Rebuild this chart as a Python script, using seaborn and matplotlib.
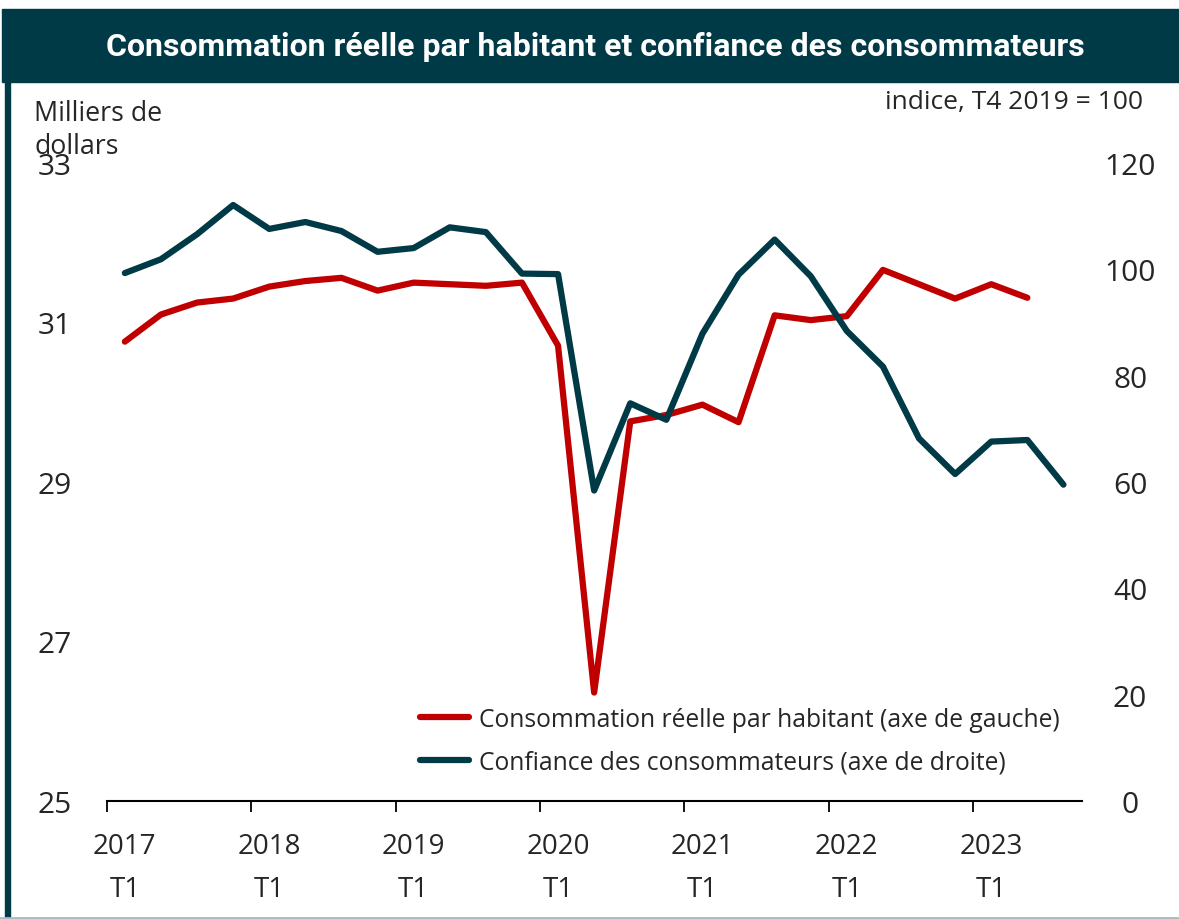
import numpy as np
import pandas as pd
import matplotlib
matplotlib.use("Agg")
import matplotlib.pyplot as plt
import seaborn as sns
from matplotlib.patches import Rectangle
from matplotlib.lines import Line2D

# données (trimestriel, 2017 T1 -> 2023 T3)
years = ["2017", "2018", "2019", "2020", "2021", "2022", "2023"]
trimestres = [f"{a} T{q}" for a in years for q in range(1, 5)][:27]
conso = [30.76, 31.10, 31.25, 31.30, 31.45, 31.52, 31.56, 31.40, 31.50, 31.48,
         31.46, 31.50, 30.71, 26.36, 29.76, 29.84, 29.97, 29.75, 31.09, 31.03,
         31.08, 31.66, 31.48, 31.30, 31.48, 31.31]
confiance = [99.3, 101.9, 106.6, 112.1, 107.6, 108.9, 107.2, 103.3, 104.0, 107.9,
             107.0, 99.2, 99.1, 58.4, 74.8, 71.7, 87.9, 99.0, 105.6, 98.7,
             88.4, 81.7, 68.2, 61.5, 67.6, 67.9, 59.5]
left_ticks = [25, 27, 29, 31, 33]
right_ticks = [0, 20, 40, 60, 80, 100, 120]
labels = ["Consommation réelle par habitant (axe de gauche)",
          "Confiance des consommateurs (axe de droite)"]

rouge = "#C00000"
teal = "#003A46"

sns.set_style("white")
plt.rcParams["font.family"] = ["Open Sans", "DejaVu Sans"]

df = pd.DataFrame({
    "t": np.arange(len(trimestres)),
    "conso": conso + [np.nan] * (len(trimestres) - len(conso)),
    "confiance": confiance,
})

W, H = 1179, 920
fig = plt.figure(figsize=(W / 100, H / 100), dpi=100)
ax = fig.add_axes([106.8 / W, 118 / H, (1081.5 - 106.8) / W, (802 - 164) / H])
ax2 = ax.twinx()

sns.lineplot(data=df, x="t", y="conso", ax=ax, color=rouge, lw=4.5, legend=False)
sns.lineplot(data=df, x="t", y="confiance", ax=ax2, color=teal, lw=4.5, legend=False)
for a in (ax, ax2):
    for ln in a.get_lines():
        ln.set_solid_joinstyle("round")
        ln.set_solid_capstyle("round")

ax.set_xlim(-0.5, len(trimestres) - 0.5)
ax.set_ylim(25, 33)
ax2.set_ylim(0, 120)
ax.set_xlabel("")
ax.set_ylabel("")
ax2.set_ylabel("")

# ticks entre les catégories, étiquettes au centre du T1
ax.set_xticks(np.arange(-0.5, len(trimestres) - 1, 4))
ax.set_xticklabels([])
ax.set_xticks(np.arange(0, len(trimestres), 4), minor=True)
ax.set_xticklabels([f"{y}\nT1" for y in years], minor=True, fontsize=20, linespacing=1.75)
ax.tick_params(axis="x", which="major", bottom=True, length=8, width=1.3, color="black")
ax.tick_params(axis="x", which="minor", bottom=True, length=0, pad=22)

ax.set_yticks(left_ticks)
ax.set_yticklabels([str(v) for v in left_ticks], fontsize=21.5)
ax.tick_params(axis="y", length=0, pad=25)
ax2.set_yticks(right_ticks)
ax2.set_yticklabels([str(v) for v in right_ticks], fontsize=21.5)
ax2.tick_params(axis="y", length=0, pad=35)
for lbl in ax2.get_yticklabels():
    lbl.set_horizontalalignment("center")

for a in (ax, ax2):
    for s in ("top", "left", "right", "bottom"):
        a.spines[s].set_visible(False)
ax.spines["bottom"].set_visible(True)
ax.spines["bottom"].set_color("black")
ax.spines["bottom"].set_linewidth(1.5)

handles = [Line2D([], [], color=rouge, lw=4.5, solid_capstyle="round"),
           Line2D([], [], color=teal, lw=4.5, solid_capstyle="round")]
ax2.legend(handles, labels, loc="upper left", bbox_to_anchor=(420 / W, 1 - 708 / H),
           bbox_transform=fig.transFigure, frameon=False, fontsize=17.7,
           handlelength=2.0, handletextpad=0.42, labelspacing=0.72,
           borderpad=0, borderaxespad=0)

# bandeau de titre et cadre
fig.patches.append(Rectangle((2 / W, 1 - 83 / H), 1, 73 / H, transform=fig.transFigure,
                             color=teal, zorder=0))
fig.patches.append(Rectangle((5 / W, 2 / H), 5 / W, 1 - 85 / H, transform=fig.transFigure,
                             color=teal, zorder=0))
fig.lines.append(Line2D([0, 1], [1.5 / H, 1.5 / H], transform=fig.transFigure,
                        color="#AEB9BF", lw=2))
fig.text(595 / W, 1 - 47 / H, "Consommation réelle par habitant et confiance des consommateurs",
         ha="center", va="center", color="white", fontsize=23, fontweight="bold",
         family=["Liberation Sans Narrow", "Roboto", "DejaVu Sans"])

fig.text(34 / W, 1 - 100 / H, "Milliers de\ndollars", ha="left", va="top",
         fontsize=19.3, linespacing=1.22)
fig.text(1143 / W, 1 - 90 / H, "indice, T4 2019 = 100", ha="right", va="top", fontsize=19)

fig.savefig("out.png", dpi=100)
